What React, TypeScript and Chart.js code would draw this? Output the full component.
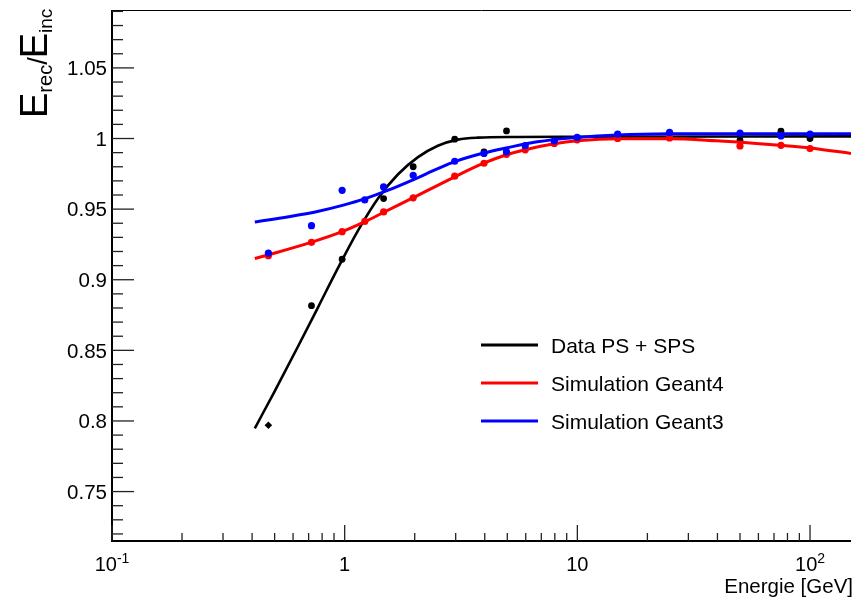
import React, { useEffect, useRef } from 'react';
import { Chart, registerables } from 'chart.js';

Chart.register(...registerables);

// ---- measured data points ----
const dataEnergy = [0.47, 0.72, 0.975, 1.47, 1.97, 2.97, 3.97, 4.96, 50, 75, 100];
const dataResp = [0.797, 0.8816, 0.9145, 0.9575, 0.98, 0.9995, 0.9905, 1.0054, 0.9988, 1.0052, 1.0];

const simEnergy = [0.47, 0.72, 0.975, 1.22, 1.47, 1.97, 2.97, 3.97, 4.96, 5.97, 7.96, 9.98, 14.9, 24.9, 50, 75, 100];
const g4Resp = [0.917, 0.9265, 0.934, 0.9413, 0.948, 0.958, 0.9733, 0.9825, 0.9888, 0.992, 0.9965, 0.9991, 1.0, 1.0004, 0.9947, 0.9952, 0.9929];
const g3Resp = [0.9189, 0.9383, 0.9633, 0.9565, 0.9657, 0.974, 0.9839, 0.9894, 0.9906, 0.9949, 0.9983, 1.0008, 1.0032, 1.0043, 1.0038, 1.0018, 1.0032];

// ---- fitted curves ----
const dataFitE = [0.411, 0.5, 0.634, 0.772, 0.94, 1.144, 1.393, 1.696, 2.066, 2.515, 3.063, 3.729, 5.53, 10, 150];
const dataFitV = [0.7948, 0.821, 0.8536, 0.8812, 0.9089, 0.9351, 0.9577, 0.9747, 0.9868, 0.9949, 0.9992, 1.0006, 1.0011, 1.0013, 1.0015];

const g4FitE = [0.411, 0.472, 0.7226, 0.9747, 1.2224, 1.4736, 1.972, 2.973, 3.957, 4.962, 5.965, 7.959, 9.98, 14.94, 24.93, 39.6, 58.7, 78.9, 99.9, 150];
const g4FitV = [0.915, 0.9177, 0.9266, 0.934, 0.9411, 0.9478, 0.9581, 0.9729, 0.9825, 0.9885, 0.9921, 0.9963, 0.9984, 0.9999, 0.9999, 0.9984, 0.9965, 0.9948, 0.9933, 0.9894];

const g3FitE = [0.411, 0.5743, 0.772, 0.987, 1.226, 1.538, 1.967, 2.515, 2.973, 3.957, 5.011, 6.73, 9.98, 14.94, 24.93, 53.2, 150];
const g3FitV = [0.9409, 0.9446, 0.9485, 0.9528, 0.9574, 0.9634, 0.9708, 0.9786, 0.9836, 0.9897, 0.9935, 0.9977, 1.0007, 1.0025, 1.0033, 1.0034, 1.0034];

// ---- axes ----
const xMin = 0.1;
const xMax = 150;
const yMin = 0.715;
const yMax = 1.091;
const yMajorTicks = [0.75, 0.8, 0.85, 0.9, 0.95, 1.0, 1.05];
const yTickLabels = ['0.75', '0.8', '0.85', '0.9', '0.95', '1', '1.05'];
const xMajorTicks = [0.1, 1, 10, 100];
const xTickBase = ['10', '1', '10', '10'];
const xTickExp = ['-1', '', '', '2'];
const xMinorTicks = [0.2, 0.3, 0.4, 0.5, 0.6, 0.7, 0.8, 0.9, 2, 3, 4, 5, 6, 7, 8, 9, 20, 30, 40, 50, 60, 70, 80, 90];

const legendLabels = ['Data PS + SPS', 'Simulation Geant4', 'Simulation Geant3'];
const legendColors = ['#000000', '#ff0000', '#0000ff'];

const FONT = '"Liberation Sans", Arial, Helvetica, sans-serif';

function pts(xs: number[], ys: number[]) {
  return xs.map((x, i) => ({ x, y: ys[i] }));
}

const rootPlugin = {
  id: 'rootAxes',
  afterDraw(chart: any) {
    const ctx: CanvasRenderingContext2D = chart.ctx;
    const xs = chart.scales.x;
    const ys = chart.scales.y;
    const { left, right, top, bottom } = chart.chartArea;
    ctx.save();
    // frame
    ctx.strokeStyle = '#000';
    ctx.lineWidth = 1;
    ctx.beginPath();
    ctx.moveTo(left, top + 0.5);
    ctx.lineTo(right, top + 0.5);
    ctx.stroke();
    ctx.lineWidth = 2;
    ctx.beginPath();
    ctx.moveTo(left, top);
    ctx.lineTo(left, bottom);
    ctx.lineTo(right, bottom);
    ctx.stroke();

    // y ticks
    ctx.strokeStyle = '#222';
    ctx.lineWidth = 1.3;
    for (let k = 72; k <= 109; k++) {
      const v = k / 100;
      const py = ys.getPixelForValue(v);
      const major = k % 5 === 0;
      ctx.beginPath();
      ctx.moveTo(left, py);
      ctx.lineTo(left + (major ? 22 : 11), py);
      ctx.stroke();
    }
    // x ticks
    xMajorTicks.forEach((v) => {
      const px = xs.getPixelForValue(v);
      ctx.beginPath();
      ctx.moveTo(px, bottom);
      ctx.lineTo(px, bottom - 16);
      ctx.stroke();
    });
    xMinorTicks.forEach((v) => {
      const px = xs.getPixelForValue(v);
      ctx.beginPath();
      ctx.moveTo(px, bottom);
      ctx.lineTo(px, bottom - 8);
      ctx.stroke();
    });

    // y labels
    ctx.fillStyle = '#000';
    ctx.font = `20.5px ${FONT}`;
    ctx.textAlign = 'right';
    ctx.textBaseline = 'alphabetic';
    yMajorTicks.forEach((v, i) => {
      const py = ys.getPixelForValue(v);
      ctx.fillText(yTickLabels[i], left - 5, py + 7.3);
    });

    // x labels with superscripts
    xMajorTicks.forEach((v, i) => {
      const px = xs.getPixelForValue(v);
      ctx.font = `20px ${FONT}`;
      const wb = ctx.measureText(xTickBase[i]).width;
      ctx.font = `14px ${FONT}`;
      const we = xTickExp[i] ? ctx.measureText(xTickExp[i]).width : 0;
      const start = px - (wb + we) / 2;
      ctx.textAlign = 'left';
      ctx.font = `20px ${FONT}`;
      ctx.fillText(xTickBase[i], start, 571);
      if (xTickExp[i]) {
        ctx.font = `14px ${FONT}`;
        ctx.fillText(xTickExp[i], start + wb, 563);
      }
    });

    // x title
    ctx.font = `20.5px ${FONT}`;
    ctx.textAlign = 'right';
    ctx.fillText('Energie [GeV]', 853, 593);

    // y title (rotated)
    ctx.save();
    ctx.translate(47, 118);
    ctx.rotate(-Math.PI / 2);
    ctx.textAlign = 'left';
    let cx = 0;
    const segs: [string, number, number][] = [
      ['E', 38, 0],
      ['rec', 20, 5],
      ['/', 27, 0],
      ['E', 38, 0],
      ['inc', 19, 5],
    ];
    segs.forEach(([t, s, dy]) => {
      ctx.font = `${s}px ${FONT}`;
      ctx.fillText(t, cx, dy);
      cx += ctx.measureText(t).width - (t === '/' ? 1 : 0);
    });
    ctx.restore();

    // legend
    const ly = [345, 383, 421];
    legendLabels.forEach((lab, i) => {
      ctx.strokeStyle = legendColors[i];
      ctx.lineWidth = 3;
      ctx.beginPath();
      ctx.moveTo(481, ly[i]);
      ctx.lineTo(538, ly[i]);
      ctx.stroke();
      ctx.fillStyle = '#000';
      ctx.font = `21px ${FONT}`;
      ctx.textAlign = 'left';
      ctx.fillText(lab, 551, ly[i] + 7.5);
    });
    ctx.restore();
  },
};

export default function App() {
  const ref = useRef<HTMLCanvasElement>(null);
  useEffect(() => {
    document.body.style.margin = '0';
    const chart = new Chart(ref.current as HTMLCanvasElement, {
      type: 'scatter',
      data: {
        datasets: [
          {
            label: 'Simulation Geant3 points',
            data: pts(simEnergy, g3Resp),
            backgroundColor: '#0000ff',
            pointRadius: 3.6,
            pointBorderWidth: 0,
            showLine: false,
            order: 1,
          },
          {
            label: 'Simulation Geant3 fit',
            data: pts(g3FitE, g3FitV),
            borderColor: '#0000ff',
            borderWidth: 3,
            pointRadius: 0,
            showLine: true,
            cubicInterpolationMode: 'monotone',
            order: 2,
          },
          {
            label: 'Simulation Geant4 points',
            data: pts(simEnergy, g4Resp),
            backgroundColor: '#ff0000',
            pointRadius: 3.6,
            pointBorderWidth: 0,
            showLine: false,
            order: 3,
          },
          {
            label: 'Simulation Geant4 fit',
            data: pts(g4FitE, g4FitV),
            borderColor: '#ff0000',
            borderWidth: 3,
            pointRadius: 0,
            showLine: true,
            cubicInterpolationMode: 'monotone',
            order: 4,
          },
          {
            label: 'Data PS + SPS points',
            data: pts(dataEnergy, dataResp),
            backgroundColor: '#000000',
            pointRadius: dataEnergy.map((_, i) => (i === 0 ? 3.8 : 3.4)),
            pointStyle: dataEnergy.map((_, i) => (i === 0 ? 'rectRot' : 'circle')) as any,
            pointBorderWidth: 0,
            showLine: false,
            order: 5,
          },
          {
            label: 'Data PS + SPS fit',
            data: pts(dataFitE, dataFitV),
            borderColor: '#000000',
            borderWidth: 2.6,
            pointRadius: 0,
            showLine: true,
            cubicInterpolationMode: 'monotone',
            order: 6,
          },
        ],
      },
      options: {
        responsive: false,
        maintainAspectRatio: false,
        animation: false,
        events: [],
        layout: { padding: { left: 112, top: 10, right: 0, bottom: 59 } },
        scales: {
          x: { type: 'logarithmic', min: xMin, max: xMax, display: false },
          y: { type: 'linear', min: yMin, max: yMax, display: false },
        },
        plugins: { legend: { display: false }, tooltip: { enabled: false } },
      },
      plugins: [rootPlugin],
    });
    return () => chart.destroy();
  }, []);
  return (
    <div style={{ width: 855, height: 600 }}>
      <canvas ref={ref} width={855} height={600} style={{ display: 'block' }} />
    </div>
  );
}
